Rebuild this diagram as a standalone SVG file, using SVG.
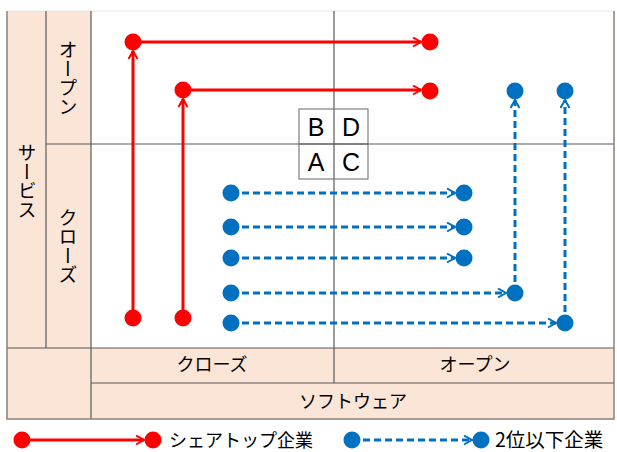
<svg xmlns="http://www.w3.org/2000/svg" width="617" height="452" viewBox="0 0 617 452">
<defs>
<style>
.bg{fill:#FBE5D6;}
.ln{stroke:#595959;stroke-width:1.2;fill:none;}
.fr{stroke:#8a8078;stroke-width:1.5;fill:none;}
.t{font-family:"Noto Sans CJK JP","Liberation Sans",sans-serif;fill:#000;}
.v{writing-mode:vertical-rl;text-anchor:middle;font-size:19px;}
.h{text-anchor:middle;font-size:18px;}
.abc{font-family:"Liberation Sans",Arial,sans-serif;font-size:25px;text-anchor:middle;fill:#000;}
.red{stroke:#FF0000;stroke-width:3;fill:none;}
.blue{stroke:#0070C0;stroke-width:3;fill:none;stroke-dasharray:7 4;}
.rd{fill:#FF0000;}
.bd{fill:#0070C0;}
</style>
<marker id="ar" markerUnits="userSpaceOnUse" markerWidth="12" markerHeight="12" refX="9" refY="5" orient="auto">
<path d="M1,0.5 L9,5 L1,9.5" fill="none" stroke="#FF0000" stroke-width="2"/>
</marker>
<marker id="ab" markerUnits="userSpaceOnUse" markerWidth="12" markerHeight="12" refX="9" refY="5" orient="auto">
<path d="M1,0.5 L9,5 L1,9.5" fill="none" stroke="#0070C0" stroke-width="2"/>
</marker>
</defs>
<rect x="0" y="0" width="617" height="452" fill="#fff"/>
<g id="frame">
<rect class="bg" x="7" y="11" width="84" height="408"/>
<rect class="bg" x="91" y="348" width="523" height="71"/>
<line x1="7" y1="11" x2="614" y2="11" stroke="#e6e6e6" stroke-width="1"/>
<line class="ln" x1="46" y1="11" x2="46" y2="348"/>
<line class="ln" x1="91" y1="11" x2="91" y2="419"/>
<line class="ln" x1="46" y1="144" x2="614" y2="144"/>
<line class="ln" x1="334" y1="11" x2="334" y2="383"/>
<line class="ln" x1="7" y1="348" x2="614" y2="348"/>
<line class="ln" x1="91" y1="383" x2="614" y2="383"/>
<line class="fr" x1="7" y1="11" x2="7" y2="419"/>
<line class="fr" x1="6.25" y1="419" x2="614.75" y2="419"/>
<line class="fr" x1="614" y1="11" x2="614" y2="419"/>
</g>
<g id="label-service"><text class="t v" x="27" y="181">サービス</text></g>
<g id="label-open-v"><text class="t v" x="68" y="78">オープン</text></g>
<g id="label-close-v"><text class="t v" x="68" y="246">クローズ</text></g>
<g id="label-close-h"><text class="t h" x="212" y="371">クローズ</text></g>
<g id="label-open-h"><text class="t h" x="475" y="371">オープン</text></g>
<g id="label-software"><text class="t h" x="353" y="408">ソフトウェア</text></g>
<g id="quadrants">
<rect x="299" y="109" width="69" height="70" fill="none" stroke="#7f7f7f" stroke-width="1.2"/>
<line class="ln" x1="299" y1="144" x2="368" y2="144"/>
<text class="abc" x="316" y="136">B</text>
<text class="abc" x="351" y="136">D</text>
<text class="abc" x="316" y="171">A</text>
<text class="abc" x="351" y="171">C</text>
</g>
<g id="connectors">
<line class="red" x1="133" y1="318" x2="133" y2="51" marker-end="url(#ar)"/>
<line class="red" x1="133" y1="42" x2="421" y2="42" marker-end="url(#ar)"/>
<line class="red" x1="183" y1="318" x2="183" y2="99" marker-end="url(#ar)"/>
<line class="red" x1="183" y1="90" x2="421" y2="90" marker-end="url(#ar)"/>
<line class="blue" x1="231" y1="193" x2="455" y2="193" marker-end="url(#ab)"/>
<line class="blue" x1="231" y1="227" x2="455" y2="227" marker-end="url(#ab)"/>
<line class="blue" x1="231" y1="258" x2="455" y2="258" marker-end="url(#ab)"/>
<line class="blue" x1="231" y1="293" x2="506" y2="293" marker-end="url(#ab)"/>
<line class="blue" x1="515" y1="293" x2="515" y2="100" marker-end="url(#ab)"/>
<line class="blue" x1="231" y1="323" x2="556" y2="323" marker-end="url(#ab)"/>
<line class="blue" x1="565" y1="323" x2="565" y2="100" marker-end="url(#ab)"/>
<line class="red" x1="22" y1="440" x2="144" y2="440" marker-end="url(#ar)"/>
<line class="blue" x1="352" y1="440" x2="472" y2="440" marker-end="url(#ab)"/>
</g>
<g id="red-dots">
<circle class="rd" cx="133" cy="42" r="8.5"/>
<circle class="rd" cx="430" cy="42" r="8.5"/>
<circle class="rd" cx="183" cy="90" r="8.5"/>
<circle class="rd" cx="430" cy="91" r="8.5"/>
<circle class="rd" cx="133" cy="318" r="8.5"/>
<circle class="rd" cx="183" cy="318" r="8.5"/>
</g>
<g id="blue-dots">
<circle class="bd" cx="231" cy="193" r="8.5"/>
<circle class="bd" cx="231" cy="227" r="8.5"/>
<circle class="bd" cx="231" cy="258" r="8.5"/>
<circle class="bd" cx="231" cy="293" r="8.5"/>
<circle class="bd" cx="231" cy="323" r="8.5"/>
<circle class="bd" cx="464" cy="193" r="8.5"/>
<circle class="bd" cx="464" cy="227" r="8.5"/>
<circle class="bd" cx="464" cy="258" r="8.5"/>
<circle class="bd" cx="515" cy="293" r="8.5"/>
<circle class="bd" cx="565" cy="323" r="8.5"/>
<circle class="bd" cx="515" cy="91" r="8.5"/>
<circle class="bd" cx="565" cy="91" r="8.5"/>
</g>
<g id="legend">
<circle class="rd" cx="22" cy="440" r="8.5"/>
<circle class="rd" cx="153" cy="440" r="8.5"/>
<text class="t" x="169" y="447" font-size="18">シェアトップ企業</text>
<circle class="bd" cx="352" cy="440" r="8.5"/>
<circle class="bd" cx="481" cy="440" r="8.5"/>
<text class="t" x="495" y="447" font-size="19.5">2位以下企業</text>
</g>
</svg>
